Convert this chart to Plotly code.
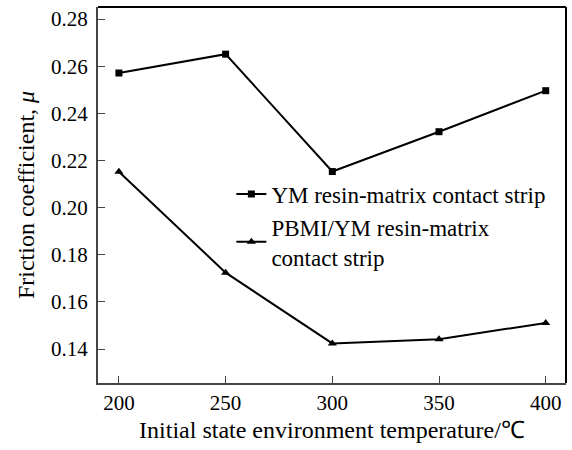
import plotly.graph_objects as go

temps = [200, 250, 300, 350, 400]
ym = [0.2571, 0.2651, 0.2153, 0.2322, 0.2496]
pbmi = [0.2152, 0.1724, 0.1424, 0.1442, 0.1511]
y_ticks = [0.14, 0.16, 0.18, 0.20, 0.22, 0.24, 0.26, 0.28]
x_ticks = [200, 250, 300, 350, 400]

font = "Liberation Serif, Times New Roman, serif"

fig = go.Figure()
fig.add_trace(go.Scatter(x=temps, y=ym, mode="lines+markers",
                         name="YM resin-matrix contact strip",
                         line=dict(color="black", width=2),
                         marker=dict(symbol="square", size=7, color="black")))
fig.add_trace(go.Scatter(x=temps, y=pbmi, mode="lines+markers",
                         name="PBMI/YM resin-matrix<br>contact strip",
                         line=dict(color="black", width=2),
                         marker=dict(symbol="triangle-up", size=8, color="black")))

fig.update_layout(
    width=572, height=450,
    margin=dict(l=98, r=6, t=7, b=67),
    paper_bgcolor="white", plot_bgcolor="white",
    font=dict(family=font, color="black", size=18),
    showlegend=True,
    legend=dict(x=0.285, y=0.56, xanchor="left", yanchor="top",
                bgcolor="rgba(0,0,0,0)", font=dict(size=23, family=font),
                itemwidth=30, tracegroupgap=0, traceorder="normal"),
    xaxis=dict(range=[190.2, 409.5], tickvals=x_ticks,
               ticks="inside", ticklen=7, tickcolor="#444",
               showline=True, linecolor="#444", linewidth=2, mirror=False,
               showgrid=False, zeroline=False,
               tickfont=dict(size=21, family=font),
               title=dict(text="Initial state environment temperature/℃",
                          font=dict(size=24, family=font), standoff=7)),
    yaxis=dict(range=[0.1256, 0.2851], tickvals=y_ticks,
               ticktext=[f"{v:.2f}" for v in y_ticks],
               ticks="inside", ticklen=7, tickcolor="#444",
               showline=True, linecolor="#444", linewidth=2, mirror=False,
               showgrid=False, zeroline=False,
               tickfont=dict(size=21, family=font), ticklabelstandoff=4,
               title=dict(text="Friction coefficient, <i>μ</i>",
                          font=dict(size=24, family=font), standoff=10)),
)
# black top/right frame
fig.add_shape(type="line", xref="paper", yref="paper", x0=0, x1=1, y0=1, y1=1,
              line=dict(color="black", width=2))
fig.add_shape(type="line", xref="paper", yref="paper", x0=1, x1=1, y0=0, y1=1,
              line=dict(color="black", width=2))

fig.write_html("out.html")
